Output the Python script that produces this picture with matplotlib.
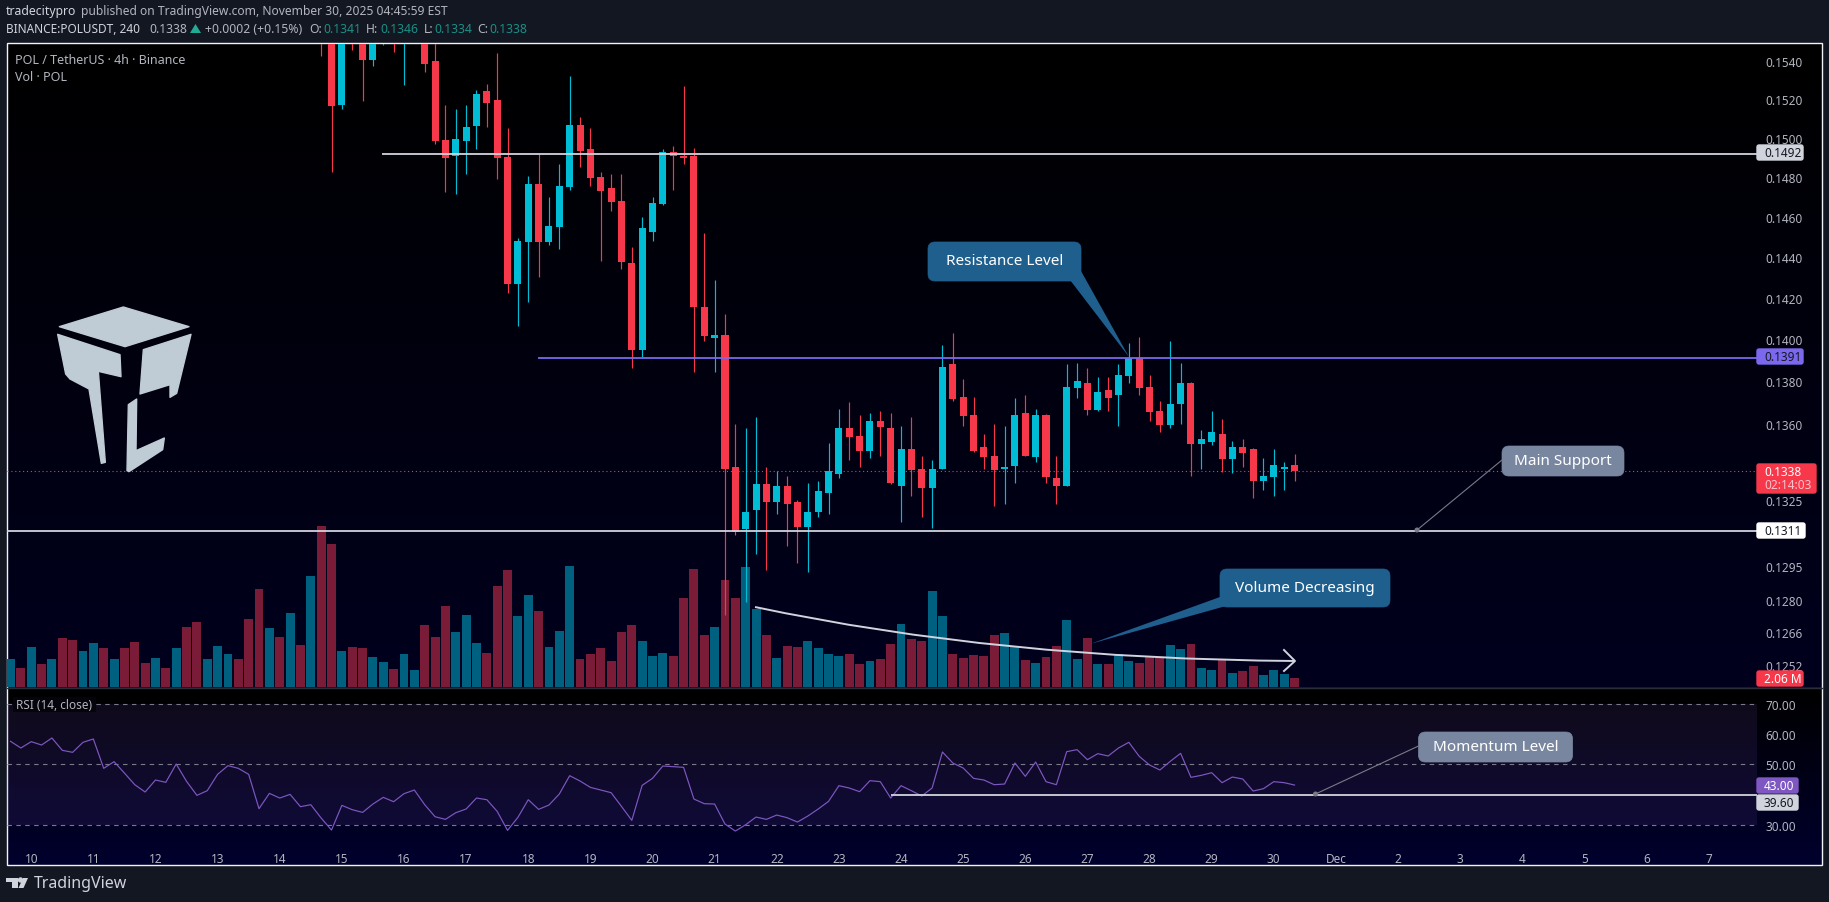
import matplotlib
matplotlib.use("Agg")
import matplotlib.pyplot as plt
import numpy as np
from matplotlib.patches import FancyBboxPatch, Polygon, PathPatch, Rectangle, Circle
from matplotlib.path import Path
from matplotlib.ticker import NullLocator, NullFormatter

plt.rcParams['font.family'] = ['Noto Sans', 'DejaVu Sans']

W, H = 1829, 903

# ---------- data ----------
candle_start = 30
opens = [.1570,.1585,.15173,.1590,.1575,.15404,.1555,.1575,.1560,.1585,.1565,.15399,.14991,.14905,.14986,.15063,.15241,.15199,.14900,.14265,
         .14472,.14767,.14472,.14547,.14752,.15068,.14941,.14798,.14747,.14681,.14368,.13946,.14526,.14666,.14930,.14910,.14910,.14157,.14003,.14018,
         .13397,.13115,.13205,.13319,.13241,.13310,.13237,.13124,.13192,.13282,.13365,.13578,.13541,.13475,.13611,.13578,.13314,.13480,.13388,.13305,
         .13392,.13879,.13727,.13639,.13489,.13448,.13392,.13402,.13648,.13443,.13639,.13347,.13314,.13765,.13789,.13662,.13760,.13732,.13822,.13908,
         .13770,.13657,.13592,.13694,.13789,.13503,.13513,.13550,.13434,.13489,.13480,.13333,.13351,.13392,.13410]
highs = [.1578,.1590,.1590,.1595,.1580,.1575,.1575,.1580,.1585,.1590,.1570,.1558,.15168,.15152,.15168,.15251,.15278,.15441,.15049,.14492,
         .14808,.14920,.14701,.14869,.15320,.15109,.15049,.14828,.14818,.14818,.14447,.14601,.14701,.14941,.14961,.15271,.14951,.14521,.14289,.14119,
         .13597,.13578,.13629,.13397,.13379,.13356,.13246,.13328,.13337,.13508,.13666,.13699,.13639,.13648,.13657,.13648,.13587,.13629,.13448,.13429,
         .13970,.14027,.13808,.13727,.13550,.13597,.13587,.13718,.13736,.13666,.13645,.13448,.13879,.13888,.13860,.13817,.13817,.13879,.13980,.14008,
         .13827,.13708,.13989,.13888,.13795,.13569,.13657,.13620,.13517,.13527,.13486,.13439,.13480,.13420,.13460]
lows = [.15430,.14828,.15152,.15462,.15189,.15373,.15488,.15451,.15273,.1552,.15341,.14971,.14727,.14712,.14818,.14941,.15058,.14788,.14221,.14061,
        .14177,.14299,.14457,.14437,.14737,.14849,.14757,.14378,.14631,.14339,.13860,.13912,.14477,.14661,.14737,.14869,.13841,.13989,.13841,.12738,
        .13092,.12794,.13007,.12936,.13187,.13039,.12967,.12927,.13169,.13187,.13347,.13429,.13397,.13439,.13448,.13319,.13147,.13268,.13169,.13120,
        .13388,.13708,.13587,.13466,.13388,.13219,.13228,.13328,.13448,.13420,.13328,.13228,.13310,.13718,.13639,.13657,.13657,.13587,.13789,.13736,
        .13611,.13559,.13578,.13597,.13356,.13388,.13499,.13374,.13370,.13397,.13259,.13296,.13268,.13296,.13337]
closes = [.1555,.15163,.1585,.1570,.15404,.1570,.1570,.1560,.1580,.1570,.15383,.14986,.14895,.14996,.15058,.15230,.15183,.14895,.14265,.14477,
          .14767,.14472,.14552,.14757,.15068,.14935,.14793,.14732,.14676,.14373,.13946,.14542,.14671,.14930,.14905,.14895,.14153,.14013,.14018,.13392,
          .13102,.13196,.13319,.13241,.13310,.13232,.13124,.13196,.13287,.13379,.13578,.13536,.13475,.13611,.13583,.13324,.13480,.13383,.13305,.13388,
          .13869,.13713,.13634,.13475,.13443,.13383,.13397,.13639,.13452,.13639,.13351,.13314,.13770,.13798,.13662,.13746,.13722,.13827,.13908,.13765,
          .13652,.13592,.13690,.13789,.13503,.13527,.13559,.13434,.13489,.13462,.13333,.13356,.13406,.13397,.13380]

volumes = [6.20,4.21,8.86,5.09,6.20,10.85,10.41,7.97,9.74,8.63,6.20,8.63,9.96,5.31,6.42,4.21,8.63,13.28,14.39,6.20,
           9.08,7.31,6.20,15.06,21.70,13.06,11.07,16.38,9.30,24.58,35.65,31.66,7.97,8.86,8.63,6.64,5.54,3.99,7.31,3.76,
           13.73,11.07,17.93,12.18,15.94,9.74,7.53,22.36,25.90,15.72,20.37,16.83,8.86,12.40,26.79,6.20,7.31,8.63,5.76,12.18,
           13.73,10.18,6.86,
           7.60,6.94,19.78,26.20,11.59,13.36,23.76,19.78,26.64,17.34,11.59,6.49,9.15,8.93,10.26,8.71,7.38,6.94,7.38,5.17,
           5.83,6.27,9.59,14.02,10.70,10.26,21.33,15.79,7.38,6.49,7.16,6.94,11.59,12.03,8.93,6.05,5.39,6.72,9.15,14.91,
           6.27,10.92,5.17,5.17,7.38,5.83,5.39,6.72,6.72,9.37,8.49,9.59,4.28,3.84,6.27,3.17,3.62,4.72,2.73,3.84,2.95,2.07]
vol_dirs = ("brbrbrrbbr" "brrrbrbrrb" "bbrrrbrbrb" "rrbrrbbrbb" "rrrbbbrrrb" "brbbbrrrrr" "rbb"
            "brrrrbrrbb" "rbrrbbbbrr" "brrbrrbbrr" "rrrbbrbrrb" "brbrbbrrrb" "brbbrbrrbb" "br")

rsi_values = [57.50,55.29,57.39,56.28,58.60,54.52,53.86,57.17,58.27,48.57,50.77,47.02,43.16,40.74,44.71,43.94,50.00,44.27,39.64,41.18,
              46.58,49.45,48.57,46.58,35.23,40.30,38.75,39.97,35.89,36.55,32.14,28.17,36.33,34.90,34.01,36.77,38.98,37.54,40.19,41.40,
              36.55,32.58,31.70,33.90,35.12,38.75,38.20,34.34,28.06,32.36,38.20,35.01,36.44,40.08,46.14,44.38,42.28,41.40,40.52,36.00,
              31.37,42.94,45.26,49.34,49.12,48.90,38.42,36.88,
              36.77,30.15,27.84,29.93,32.47,31.70,33.13,32.25,30.82,32.80,35.12,37.65,42.83,42.06,40.85,44.49,44.16,38.75,42.83,41.18,
              39.42,42.06,53.97,50.33,48.68,45.26,44.71,43.16,43.38,50.33,45.92,50.66,44.16,43.16,54.08,54.74,51.43,53.42,52.65,55.29,
              57.17,52.54,49.67,48.02,50.88,53.53,45.59,46.25,47.13,43.83,45.70,45.04,41.07,41.84,44.16,43.83,43.05]

price_ticks = [.1540,.1520,.1500,.1480,.1460,.1440,.1420,.1400,.1380,.1360,.1340,.1325,.1295,.1280,.1266,.1252]
rsi_ticks = [70, 60, 50, 30]
rsi_levels = [70, 50, 30]
day_labels = ['10','11','12','13','14','15','16','17','18','19','20','21','22','23','24','25','26','27','28','29','30',
              'Dec','2','3','4','5','6','7']
level_white_top = 0.1492
level_purple = 0.1391
level_support = 0.1311
last_price = 0.1338
level_rsi = 39.60

# ---------- colours ----------
PAGE = '#131722'; RED = '#f7374a'; CYAN = '#00bcd4'
VOL_RED = '#7a1c38'; VOL_BLUE = '#006080'; LINE = '#d1d4dc'; LAB = '#b2b5be'
PURPLE_LINE = '#7b68ee'; RSI_C = '#7e57c2'; CALL_BLUE = '#1f5f8e'; CALL_GREY = '#78869f'

# ---------- axes ----------
def rect(x0, y0, x1, y1):
    return [x0/W, 1-y1/H, (x1-x0)/W, (y1-y0)/H]

fig = plt.figure(figsize=(W/100, H/100), dpi=100, facecolor=PAGE)

bg = fig.add_axes([0, 0, 1, 1], zorder=0)
bg.set_xlim(0, W); bg.set_ylim(H, 0); bg.axis('off')
def gradient(ax, x0, x1, y0, y1, c0, c1):
    g = np.linspace(0, 1, 256)[:, None, None]
    img = (1-g)*np.array(c0)[None, None, :] + g*np.array(c1)[None, None, :]
    ax.imshow(img/255., extent=(x0, x1, y1, y0), aspect='auto', zorder=0, interpolation='bilinear')
gradient(bg, 7, 1822, 44, 688, (0, 0, 0), (0, 0, 30))
gradient(bg, 7, 1822, 689, 866, (0, 0, 0), (0, 0, 46))
bg.set_xlim(0, W); bg.set_ylim(H, 0)
bg.add_patch(Rectangle((6.5, 43.5), 1815.5, 822.5, fill=False, ec='#f0f3fa', lw=1.0, zorder=3))
bg.plot([7, 1822], [688.5, 688.5], color='#2a2e39', lw=1.0, zorder=3)

XL = ((7-10.5)/10.355, (1757-10.5)/10.355)

ax_v = fig.add_axes(rect(7, 44, 1757, 688), zorder=1)
ax_v.patch.set_alpha(0)
ax_v.set_xlim(*XL); ax_v.set_ylim(0, 142.6); ax_v.axis('off')
idx_all = np.arange(len(volumes))
ax_v.bar(idx_all, volumes, width=0.86, linewidth=0,
         color=[VOL_BLUE if d == 'b' else VOL_RED for d in vol_dirs])

ax = fig.add_axes(rect(7, 44.5, 1757, 688.5), zorder=2)
ax.patch.set_alpha(0)
ax.set_yscale('log')
ax.set_xlim(*XL); ax.set_ylim(0.12423, 0.15494)
for s in ax.spines.values():
    s.set_visible(False)
ax.yaxis.tick_right()
ax.yaxis.set_minor_locator(NullLocator()); ax.yaxis.set_minor_formatter(NullFormatter())
ax.set_yticks(price_ticks); ax.set_yticklabels([f'{t:.4f}' for t in price_ticks])
ax.tick_params(axis='y', length=0, pad=6, labelsize=8.5, labelcolor=LAB)
ax.set_xticks([])

o = np.array(opens); h = np.array(highs); l = np.array(lows); c = np.array(closes)
xs = np.arange(candle_start, candle_start+len(o))
cols = [CYAN if cc >= oo else RED for oo, cc in zip(o, c)]
ax.vlines(xs, l, h, colors=cols, linewidth=0.85, zorder=3)
ax.bar(xs, np.maximum(np.abs(c-o), 0.00005), bottom=np.minimum(o, c), width=0.68, color=cols, linewidth=0, zorder=3)

ax.hlines(level_white_top, 35.9, XL[1], color=LINE, lw=1.3, zorder=4)
ax.hlines(level_purple, 50.9, XL[1], color=PURPLE_LINE, lw=1.3, zorder=4)
ax.hlines(level_support, XL[0], XL[1], color=LINE, lw=1.3, zorder=4)
ax.hlines(last_price, XL[0], XL[1], color=RED, lw=0.8, linestyles=(0, (1, 2.5)), zorder=2)

ax_r = fig.add_axes(rect(7, 689.5, 1757, 866.5), zorder=2)
ax_r.patch.set_alpha(0)
ax_r.set_xlim(*XL); ax_r.set_ylim(16.45, 74.96)
for s in ax_r.spines.values():
    s.set_visible(False)
ax_r.axhspan(30, 70, color=RSI_C, alpha=0.12, lw=0)
for lv in rsi_levels:
    ax_r.axhline(lv, color='#787b86', lw=0.8, dashes=(4, 4))
ax_r.plot(np.arange(len(rsi_values)), rsi_values, color=RSI_C, lw=0.85)
ax_r.hlines(level_rsi, 85.0, XL[1], color=LINE, lw=1.3, zorder=4)
ax_r.yaxis.tick_right()
ax_r.set_yticks(rsi_ticks); ax_r.set_yticklabels([f'{t:.2f}' for t in rsi_ticks])
ax_r.tick_params(axis='y', length=0, pad=6, labelsize=8.5, labelcolor=LAB)
ax_r.set_xticks([2+6*k for k in range(len(day_labels))]); ax_r.set_xticklabels(day_labels)
ax_r.tick_params(axis='x', length=0, pad=-10, labelsize=8.5, labelcolor=LAB)

# ---------- overlay ----------
ov = fig.add_axes([0, 0, 1, 1], zorder=5)
ov.set_xlim(0, W); ov.set_ylim(H, 0); ov.axis('off'); ov.patch.set_alpha(0)

def T(x, y, s, color=LAB, size=8.8, weight='normal', ha='left', **kw):
    ov.text(x, y, s, color=color, fontsize=size, fontweight=weight, ha=ha, va='center', **kw)

# header
T(6, 12, 'tradecitypro', color='#d1d4dc', weight='bold')
T(81, 12, 'published on TradingView.com, November 30, 2025 04:45:59 EST', size=8.7)
T(6, 29.5, 'BINANCE:POLUSDT, 240', color='#d1d4dc', weight='bold', size=8.5)
T(149, 29.5, '0.1338')
ov.add_patch(Polygon([(190, 34), (201, 34), (195.5, 25)], color='#22ab94', lw=0))
T(205, 29.5, '+0.0002 (+0.15%)')
TEAL = '#1a8f85'
for lab, lx, val, vx in [('O:', 309, '0.1341', 323), ('H:', 366, '0.1346', 380),
                         ('L:', 424, '0.1334', 434), ('C:', 477, '0.1338', 489)]:
    T(lx, 29.5, lab, weight='bold')
    T(vx, 29.5, val, color=TEAL)

# legends
T(15, 60.5, 'POL / TetherUS · 4h · Binance', size=9)
T(15, 77.5, 'Vol · POL', size=9)
ov.add_patch(Rectangle((13, 698), 83, 15, color='#05040a', lw=0))
T(15.5, 705.5, 'RSI (14, close)', size=8.5)

# price labels
def tag(x0, y0, x1, y1, col):
    ov.add_patch(FancyBboxPatch((x0, y0+1), x1-x0-1, y1-y0-2, boxstyle='round,pad=0,rounding_size=2',
                                fc=col, ec=col, lw=1))
tag(1757, 145, 1804, 162, '#d1d4dc'); T(1764, 153.5, '0.1492', color='#131722', size=8.5)
tag(1757, 349, 1804, 366, PURPLE_LINE); T(1764, 357.5, '0.1391', color='#131722', size=8.5)
tag(1757, 464, 1817, 495, RED)
T(1764, 472.5, '0.1338', color='white', size=8.5, weight='bold')
T(1764, 486, '02:14:03', color='#fbc4cb', size=8.5)
tag(1757, 523, 1806, 540, '#ffffff'); T(1764, 531.5, '0.1311', color='#131722', size=8.5)
tag(1757, 671, 1804, 688, RED); T(1764, 679.5, '2.06 M', color='white', size=8.5, weight='bold')
tag(1757, 778, 1799, 795, RSI_C); T(1764, 786.5, '43.00', color='white', size=8.5)
tag(1757, 795, 1799, 812, '#d1d4dc'); T(1764, 803.5, '39.60', color='#131722', size=8.5)

# callouts
def callout(x0, y0, x1, y1, col, text, tail=None):
    if tail:
        ov.add_patch(Polygon(tail, closed=True, fc=col, ec='none'))
    ov.add_patch(FancyBboxPatch((x0, y0), x1-x0, y1-y0, boxstyle='round,pad=0,rounding_size=7',
                                fc=col, ec=col, lw=0.5))
    ov.text((x0+x1)/2, (y0+y1)/2-0.5, text, color='white', fontsize=11.0, fontweight='bold', ha='center', va='center')

callout(928, 243, 1081, 282, CALL_BLUE, 'Resistance Level', [(1070, 281), (1081, 272), (1129, 358)])
callout(1220, 570, 1390, 608, CALL_BLUE, 'Volume Decreasing', [(1220, 598), (1226, 607), (1090, 645)])

ov.plot([1502, 1417], [461, 531], color='#787b86', lw=0.8)
ov.add_patch(Circle((1417, 531), 1.8, color='#787b86'))
callout(1502, 447, 1624, 477, CALL_GREY, 'Main Support')
ov.plot([1418.5, 1315.5], [747, 795], color='#787b86', lw=0.8)
ov.add_patch(Circle((1315.5, 795), 1.8, color='#787b86'))
callout(1418.5, 733, 1572.6, 763, CALL_GREY, 'Momentum Level')

# curved arrow
ov.add_patch(PathPatch(Path([(755, 608), (1000, 660), (1295, 662)], [Path.MOVETO, Path.CURVE3, Path.CURVE3]),
                       fill=False, ec=LINE, lw=1.4))
ov.plot([1284, 1295, 1284], [651, 662, 672], color=LINE, lw=1.4)

# logo
LOGO = '#bfccd6'
def logo_poly(pts):
    pts = [(30+px/3, 290+py/3) for px, py in pts]
    ov.add_patch(Polygon(pts, closed=True, fc=LOGO, ec=LOGO, lw=1.0, joinstyle='round'))
logo_poly([(88, 113), (280, 54), (477, 113), (285, 173)])
logo_poly([(83, 136), (270, 197), (273, 263), (205, 247), (226, 520), (214, 523), (177, 300), (120, 270), (107, 255)])
logo_poly([(340, 182), (483, 136), (440, 313), (420, 325), (420, 287), (330, 315)])
logo_poly([(295, 347), (320, 330), (318, 485), (403, 447), (398, 482), (297, 548), (291, 545)])

# TradingView footer
ov.add_patch(Polygon([(6, 879), (18, 879), (18, 889), (12, 889), (12, 883), (6, 883)], fc='#d1d4dc', ec='none'))
ov.add_patch(Circle((20.5, 881), 2, color='#d1d4dc'))
ov.add_patch(Polygon([(23, 879), (28, 879), (23.5, 889), (18.5, 889)], fc='#d1d4dc', ec='none'))
T(34, 884.5, 'TradingView', color='#d1d4dc', size=11.5, weight='medium')

fig.savefig('out.png', dpi=100, facecolor=PAGE)
